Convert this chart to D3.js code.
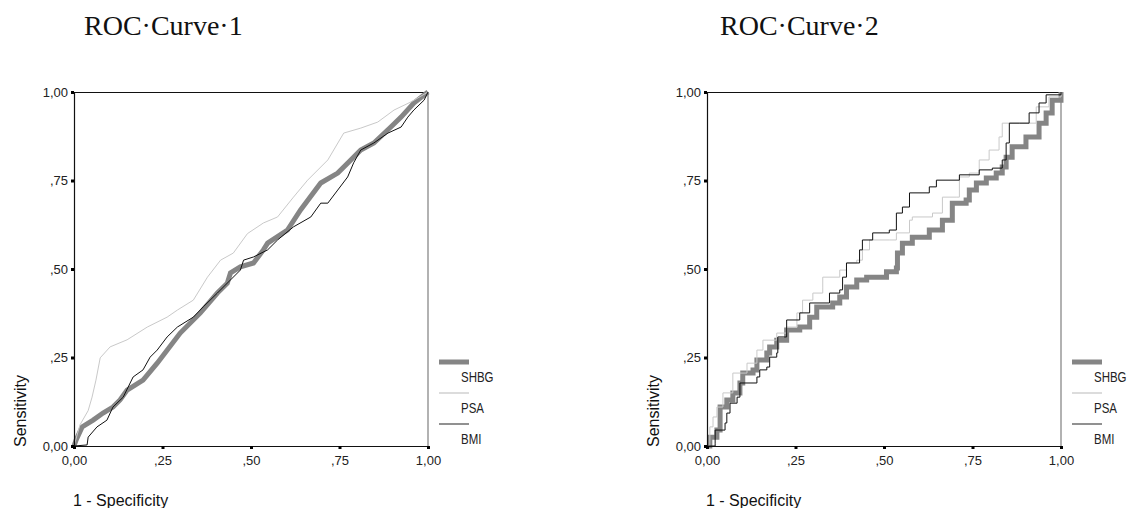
<!DOCTYPE html>
<html>
<head>
<meta charset="utf-8">
<script src="https://cdn.jsdelivr.net/npm/d3@7"></script>
<style>
  body { margin: 0; background: #fff; }
  text { font-family: Arial, "Liberation Sans", sans-serif; }
</style>
</head>
<body>
<svg id="chart" width="1130" height="508"></svg>
<script>
'use strict'

// tick values / labels
var ticks = [0, 0.25, 0.5, 0.75, 1]
var tickLabels = ['0,00', ',25', ',50', ',75', '1,00']
var seriesNames = ['SHBG', 'PSA', 'BMI']
var titles = ['ROC\u00B7Curve\u00B71', 'ROC\u00B7Curve\u00B72']

// curve 1 points [1 - specificity, sensitivity]
var shbg1 = [[0,0],[0.006,0.017],[0.023,0.054],[0.054,0.073],[0.082,0.093],[0.11,0.11],[0.13,0.13],[0.15,0.158],
  [0.195,0.186],[0.235,0.234],[0.30,0.319],[0.357,0.376],[0.405,0.432],[0.433,0.46],[0.442,0.489],[0.47,0.506],
  [0.507,0.517],[0.535,0.554],[0.547,0.573],[0.603,0.61],[0.64,0.667],[0.697,0.743],[0.745,0.771],[0.782,0.808],
  [0.81,0.836],[0.847,0.856],[0.895,0.901],[0.924,0.929],[0.96,0.969],[1,1]]
var psa1 = [[0,0],[0.017,0.06],[0.04,0.10],[0.051,0.138],[0.062,0.186],[0.074,0.249],[0.102,0.28],[0.15,0.30],
  [0.207,0.336],[0.263,0.364],[0.292,0.384],[0.337,0.412],[0.377,0.477],[0.414,0.525],[0.45,0.545],[0.49,0.60],
  [0.535,0.63],[0.575,0.647],[0.62,0.703],[0.66,0.751],[0.717,0.808],[0.762,0.884],[0.81,0.898],[0.858,0.915],
  [0.904,0.949],[0.952,0.972],[1,1]]
var bmi1 = [[0,0],[0.037,0.003],[0.04,0.025],[0.065,0.054],[0.093,0.073],[0.11,0.11],[0.139,0.138],[0.167,0.195],
  [0.195,0.215],[0.215,0.251],[0.235,0.271],[0.263,0.308],[0.292,0.336],[0.337,0.364],[0.365,0.393],[0.405,0.432],
  [0.442,0.469],[0.47,0.497],[0.479,0.525],[0.507,0.534],[0.547,0.554],[0.575,0.582],[0.62,0.619],[0.669,0.647],
  [0.697,0.686],[0.717,0.686],[0.745,0.723],[0.773,0.76],[0.79,0.80],[0.81,0.836],[0.847,0.856],[0.887,0.884],
  [0.924,0.901],[0.943,0.929],[0.96,0.949],[0.989,0.977],[1,1]]

// curve 2 points
var shbg2 = [[0,0],[0.008,0.025],[0.028,0.045],[0.037,0.11],[0.056,0.13],[0.073,0.15],[0.093,0.178],[0.101,0.206],
  [0.13,0.215],[0.141,0.243],[0.169,0.263],[0.177,0.28],[0.197,0.299],[0.225,0.328],[0.262,0.336],[0.29,0.364],
  [0.31,0.393],[0.355,0.404],[0.375,0.421],[0.394,0.449],[0.423,0.469],[0.451,0.477],[0.507,0.492],[0.535,0.503],
  [0.538,0.545],[0.552,0.573],[0.58,0.59],[0.628,0.61],[0.665,0.638],[0.693,0.686],[0.732,0.695],[0.741,0.723],
  [0.761,0.743],[0.789,0.757],[0.817,0.771],[0.834,0.788],[0.845,0.816],[0.862,0.845],[0.901,0.873],[0.938,0.912],
  [0.958,0.941],[0.975,0.977],[1,1]]
var psa2 = [[0,0],[0.008,0.054],[0.017,0.082],[0.028,0.11],[0.045,0.15],[0.065,0.15],[0.073,0.206],[0.113,0.234],
  [0.141,0.271],[0.158,0.299],[0.197,0.319],[0.225,0.336],[0.254,0.376],[0.27,0.412],[0.299,0.432],[0.327,0.449],
  [0.327,0.477],[0.375,0.497],[0.394,0.517],[0.423,0.525],[0.439,0.554],[0.459,0.582],[0.515,0.582],[0.535,0.602],
  [0.572,0.638],[0.58,0.647],[0.637,0.658],[0.665,0.703],[0.704,0.703],[0.713,0.76],[0.741,0.771],[0.769,0.808],
  [0.797,0.836],[0.825,0.873],[0.834,0.912],[0.89,0.912],[0.93,0.958],[0.966,0.986],[1,1]]
var bmi2 = [[0,0],[0.023,0.008],[0.023,0.045],[0.051,0.065],[0.056,0.093],[0.065,0.121],[0.085,0.138],[0.093,0.178],
  [0.141,0.195],[0.149,0.215],[0.169,0.223],[0.177,0.251],[0.197,0.263],[0.20,0.308],[0.225,0.356],[0.262,0.376],
  [0.29,0.404],[0.346,0.432],[0.375,0.441],[0.383,0.477],[0.394,0.517],[0.431,0.554],[0.439,0.582],[0.468,0.602],
  [0.515,0.61],[0.535,0.658],[0.552,0.675],[0.572,0.715],[0.628,0.732],[0.648,0.751],[0.713,0.766],[0.769,0.78],
  [0.806,0.785],[0.834,0.808],[0.845,0.856],[0.854,0.912],[0.882,0.912],[0.91,0.941],[0.938,0.969],[0.958,0.992],
  [0.986,0.992],[1,1]]

var styles = [
  {color: '#858585', width: 5},
  {color: '#c9c9c9', width: 1},
  {color: '#111', width: 1}
]

var svg = d3.select('#chart')

function drawPanel(left, titleX, title, series, curve) {
  var top = 92, size = 354
  var x = d3.scaleLinear().domain([0, 1]).range([left, left + size])
  var y = d3.scaleLinear().domain([0, 1]).range([top + size, top])
  var g = svg.append('g')

  g.append('text')
    .attr('x', titleX).attr('y', 35)
    .style('font-family', '"Liberation Serif", "Times New Roman", serif')
    .style('font-size', '28px')
    .attr('fill', '#111')
    .text(title)

  // frame: right side grey, rest black
  g.append('line').attr('x1', x(1)).attr('x2', x(1)).attr('y1', y(0)).attr('y2', y(1))
    .attr('stroke', '#999').attr('stroke-width', 1.5)
  g.append('line').attr('x1', x(0)).attr('x2', x(1)).attr('y1', y(1) + 0.5).attr('y2', y(1) + 0.5)
    .attr('stroke', '#111')

  var line = d3.line().x(d => x(d[0])).y(d => y(d[1])).curve(curve)
  series.forEach((s, i) => {
    g.append('path')
      .datum(s)
      .attr('d', line)
      .attr('fill', 'none')
      .attr('stroke', styles[i].color)
      .attr('stroke-width', styles[i].width)
  })

  var yAxis = g.append('g').attr('transform', 'translate(' + x(0) + ',0)')
    .call(d3.axisLeft(y).tickValues(ticks).tickSize(0).tickPadding(6)
      .tickFormat((d, i) => tickLabels[i]))
  var xAxis = g.append('g').attr('transform', 'translate(0,' + y(0) + ')')
    .call(d3.axisBottom(x).tickValues(ticks).tickSize(0).tickPadding(10)
      .tickFormat((d, i) => tickLabels[i]))
  ;[yAxis, xAxis].forEach(a => {
    a.select('.domain').attr('stroke', '#111').attr('stroke-width', 1.2)
    a.selectAll('text').style('font-size', '13px').attr('fill', '#222')
      .style('font-family', 'Arial, "Liberation Sans", sans-serif')
  })
  // little square tick marks
  yAxis.selectAll('.tick').append('rect').attr('x', -3).attr('y', -1.5).attr('width', 3).attr('height', 3).attr('fill', '#000')
  xAxis.selectAll('.tick').append('rect').attr('x', -1.5).attr('y', 0).attr('width', 3).attr('height', 3).attr('fill', '#000')

  g.append('text')
    .attr('transform', 'translate(' + (left - 48) + ',' + (y(0) + 1) + ') rotate(-90)')
    .style('font-size', '16px').attr('fill', '#111')
    .text('Sensitivity')
  g.append('text')
    .attr('x', left - 1).attr('y', 506)
    .style('font-size', '16px').attr('fill', '#111')
    .text('1 - Specificity')

  // legend (text squeezed horizontally, like a narrow font)
  var lx = x(1) + 11
  seriesNames.forEach((n, i) => {
    var ly = 362 + i * 31
    g.append('line').attr('x1', lx).attr('x2', lx + 30).attr('y1', ly).attr('y2', ly)
      .attr('stroke', i == 2 ? '#555' : styles[i].color)
      .attr('stroke-width', i == 0 ? 5 : 1.3)
    g.append('text')
      .attr('transform', 'translate(' + (lx + 22) + ',' + (ly + 20) + ') scale(0.82,1)')
      .style('font-size', '14px').attr('fill', '#222')
      .text(n)
  })
}

drawPanel(74, 84, titles[0], [shbg1, psa1, bmi1], d3.curveLinear)
drawPanel(707, 720, titles[1], [shbg2, psa2, bmi2], d3.curveStepAfter)
</script>
</body>
</html>
